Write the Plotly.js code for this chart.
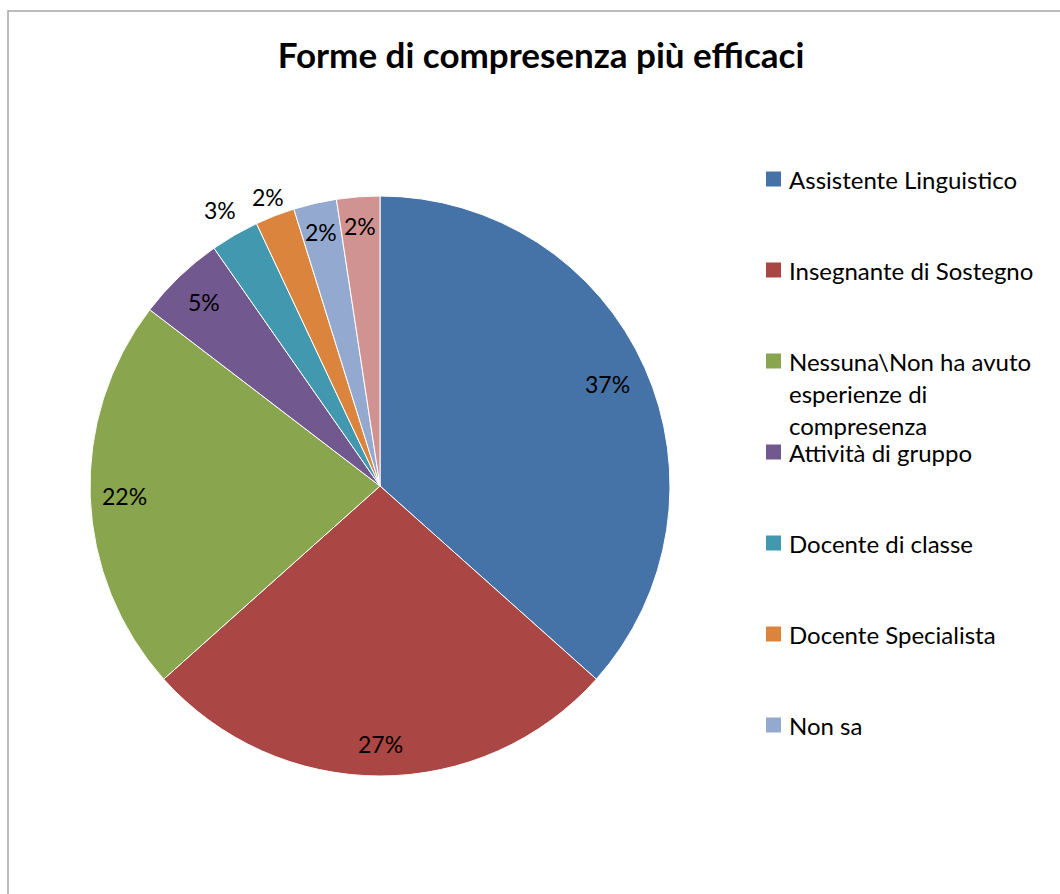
<!DOCTYPE html>
<html>
<head>
<meta charset="utf-8">
<script src="https://cdn.plot.ly/plotly-3.0.1.min.js"></script>
<style>html,body{margin:0;padding:0;background:#fff;}#chart{width:1060px;height:894px;}</style>
</head>
<body>
<div id="chart"></div>
<script>
// Data
const categories = [
  "Assistente Linguistico",
  "Insegnante di Sostegno",
  "Nessuna\\Non ha avuto esperienze di compresenza",
  "Attività di gruppo",
  "Docente di classe",
  "Docente Specialista",
  "Non sa",
  "Altro"
];
const values = [36.6, 26.8, 22.0, 4.9, 2.7, 2.2, 2.4, 2.4];
const legendLabels = [
  ["Assistente Linguistico"],
  ["Insegnante di Sostegno"],
  ["Nessuna\\Non ha avuto", "esperienze di", "compresenza"],
  ["Attività di gruppo"],
  ["Docente di classe"],
  ["Docente Specialista"],
  ["Non sa"]
];

// Styles / layout
const colors = ["#4572A7", "#AA4643", "#89A54E", "#71588F", "#4198AF", "#DB843D", "#93A9CF", "#D19392"];
const labelRadius = [0.86, 0.89, 0.88, 0.88, 1.10, 1.07, 0.90, 0.90];
const W = 1060, H = 894;
const cx = 380, cy = 486, R = 290;
const FONT = "Lato, 'Open Sans', sans-serif";

const px2x = p => p / W;
const px2y = p => 1 - p / H;

const annotations = [];
const total = values.reduce((a, b) => a + b, 0);
let cum = 0;
values.forEach((v, i) => {
  const mid = (cum + v / 2) / total * 2 * Math.PI;
  cum += v;
  const r = R * labelRadius[i];
  const x = cx + r * Math.sin(mid);
  const y = cy - r * Math.cos(mid);
  annotations.push({
    text: Math.round(v / total * 100) + "%",
    x: px2x(x), y: px2y(y), xref: "paper", yref: "paper",
    xanchor: "center", yanchor: "middle", showarrow: false,
    font: {family: FONT, size: 23, color: "#000"}
  });
});

const shapes = [{
  type: "rect", xref: "paper", yref: "paper",
  x0: px2x(8), x1: 1.05, y0: -0.05, y1: px2y(11),
  line: {color: "#a6a6a6", width: 1.5}, fillcolor: "rgba(0,0,0,0)"
}];

const legendTop = 179, legendStep = 91, lineStep = 32;
legendLabels.forEach((lines, i) => {
  const yc = legendTop + i * legendStep;
  shapes.push({
    type: "rect", xref: "paper", yref: "paper",
    x0: px2x(766), x1: px2x(781), y0: px2y(yc + 7.5), y1: px2y(yc - 7.5),
    fillcolor: colors[i], line: {width: 0}
  });
  lines.forEach((t, j) => {
    annotations.push({
      text: t, x: px2x(787), y: px2y(yc + j * lineStep),
      xref: "paper", yref: "paper", xanchor: "left", yanchor: "middle",
      showarrow: false, font: {family: FONT, size: 24, color: "#000"}
    });
  });
});

const trace = {
  type: "pie",
  labels: categories,
  values: values,
  sort: false,
  direction: "clockwise",
  rotation: 0,
  marker: {colors: colors, line: {color: "#ffffff", width: 1}},
  textinfo: "none",
  hoverinfo: "label+percent",
  showlegend: false,
  domain: {x: [px2x(cx - R), px2x(cx + R)], y: [px2y(cy + R), px2y(cy - R)]}
};

const layout = {
  width: W, height: H,
  margin: {l: 0, r: 0, t: 0, b: 0},
  paper_bgcolor: "#ffffff",
  showlegend: false,
  title: {
    text: "<b>Forme di compresenza più efficaci</b>",
    x: 541 / W, xanchor: "center", y: px2y(56), yanchor: "middle",
    font: {family: FONT, size: 35, color: "#000"}
  },
  annotations: annotations,
  shapes: shapes
};

Plotly.newPlot("chart", [trace], layout, {displayModeBar: false, staticPlot: true});
</script>
</body>
</html>
